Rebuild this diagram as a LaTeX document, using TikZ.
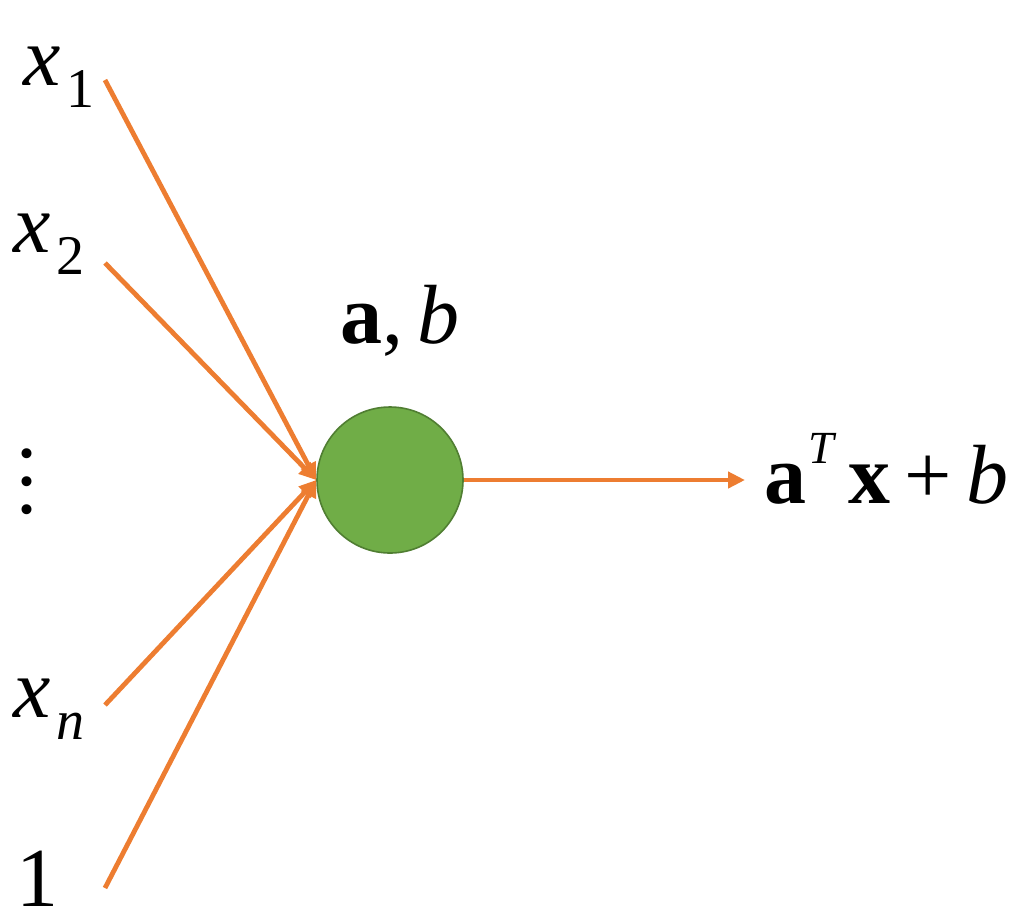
\documentclass[tikz,border=0pt]{standalone}
\usepackage{fontspec}
\setmainfont{Liberation Serif}
\usetikzlibrary{arrows.meta}
\definecolor{edgeorange}{RGB}{237, 125, 49}
\definecolor{neurongreen}{RGB}{112, 173, 71}
\definecolor{neurondark}{RGB}{80, 126, 50}
\newcommand{\bigfont}{\fontsize{42}{42}\selectfont}
\newcommand{\smallfont}{\fontsize{28}{28}\selectfont}
\newcommand{\inlab}[1]{\textit{x}\kern3pt\raisebox{-11pt}{\smallfont #1}}

\begin{document}
\begin{tikzpicture}[
  x=0.5pt, y=-0.5pt,
  edge/.style={line width=2.4pt, draw=edgeorange, -{Triangle[length=8.5pt, width=8pt]}},
  neuron/.style={circle, fill=neurongreen, draw=neurondark, line width=0.8pt, minimum size=73pt, inner sep=0},
  varlabel/.style={anchor=base west, inner sep=0, font=\bigfont},
]
\useasboundingbox (0, 0) rectangle (1015, 922);

% ==================== inputs ====================
\node[varlabel] (x1) at (23, 85) {\inlab{1}};
\node[varlabel] (x2) at (13, 252) {\inlab{2}};
\node[inner sep=0, font=\bigfont] (dots) at (27, 482) {\vbox{\baselineskip=14pt\hbox{.}\hbox{.}\hbox{.}}};
\node[varlabel] (xn) at (13, 717) {\inlab{\textit{n}}};
\node[varlabel] (one) at (16, 906) {1};

\coordinate (s1) at (105, 80);
\coordinate (s2) at (105, 263);
\coordinate (sn) at (105, 705);
\coordinate (s0) at (105, 888);

% ==================== neuron ====================
\node[neuron] (neuron) at (390, 480) {};
\node[varlabel] (absym) at (340, 343) {\textbf{a},\kern7pt\textit{b}};

% ==================== output ====================
\coordinate (outtip) at (745, 480);
\node[varlabel] (out) at (764, 503) {\textbf{a}\kern1pt\raisebox{20pt}{\fontsize{23}{23}\selectfont\textit{T}}\kern6pt\textbf{x}\kern7pt+\kern7pt\textit{b}};

% connectors
\foreach \s in {s1, s2, sn, s0}
  \draw[edge] (\s) -- (neuron.west);
\draw[edge] (neuron.east) -- (outtip);

\end{tikzpicture}
\end{document}
